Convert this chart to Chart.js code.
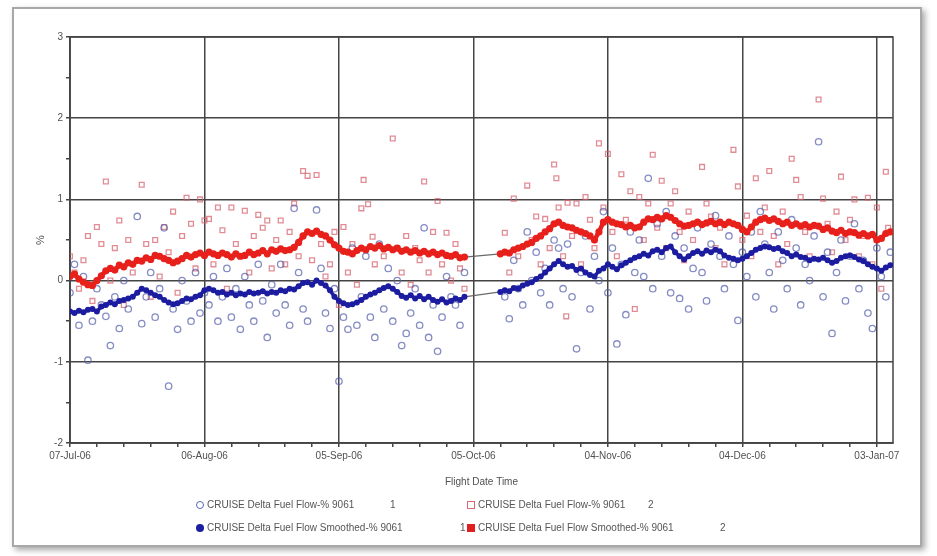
<!DOCTYPE html>
<html><head><meta charset="utf-8">
<script src="https://cdn.jsdelivr.net/npm/chart.js@4.4.0/dist/chart.umd.min.js"></script>
<style>
html,body{margin:0;padding:0;background:#fff;}
#wrap{position:relative;width:937px;height:556px;overflow:hidden;background:#fff;}
#frame{position:absolute;left:12px;top:7px;width:906px;height:536px;border:2px solid #a8a8a8;box-shadow:3px 3px 6px rgba(0,0,0,0.35);}
#c{position:absolute;left:0;top:0;}
.leg{position:absolute;font:10px "Liberation Sans",Arial,sans-serif;color:#555;white-space:nowrap;line-height:12px;}
.mk{position:absolute;box-sizing:border-box;}
</style></head>
<body><div id="wrap"><div id="frame"></div><canvas id="c" width="937" height="556"></canvas>
<div class="mk" style="left:196px;top:501px;width:8px;height:8px;border:1.5px solid #5a66b8;border-radius:50%"></div>
<div class="leg" style="left:207px;top:499px">CRUISE Delta Fuel Flow-% 9061</div>
<div class="leg" style="left:390px;top:499px">1</div>
<div class="mk" style="left:467px;top:501px;width:8px;height:8px;border:1.5px solid #d86a72"></div>
<div class="leg" style="left:478px;top:499px">CRUISE Delta Fuel Flow-% 9061</div>
<div class="leg" style="left:648px;top:499px">2</div>
<div class="mk" style="left:196px;top:524px;width:8px;height:8px;background:#1c1ca0;border-radius:50%"></div>
<div class="leg" style="left:207px;top:522px">CRUISE Delta Fuel Flow Smoothed-% 9061</div>
<div class="leg" style="left:460px;top:522px">1</div>
<div class="mk" style="left:467px;top:524px;width:8px;height:8px;background:#e02020"></div>
<div class="leg" style="left:478px;top:522px">CRUISE Delta Fuel Flow Smoothed-% 9061</div>
<div class="leg" style="left:720px;top:522px">2</div>
</div>
<script>
const dateLabels = ['07-Jul-06','06-Aug-06','05-Sep-06','05-Oct-06','04-Nov-06','04-Dec-06','03-Jan-07'];
const yLabels = [-2,-1,0,1,2,3];
const smoothStart1 = 0;
const smoothStart2 = 96;
const redSmooth1 = [0.05,0.08,0.02,-0.02,-0.05,-0.06,0.0,0.06,0.12,0.15,
0.13,0.19,0.17,0.22,0.2,0.25,0.24,0.28,0.26,0.31,
0.3,0.27,0.25,0.22,0.24,0.27,0.31,0.29,0.32,0.34,
0.31,0.35,0.33,0.31,0.34,0.32,0.29,0.33,0.3,0.31,
0.35,0.32,0.34,0.37,0.33,0.38,0.36,0.39,0.37,0.38,
0.41,0.47,0.55,0.6,0.58,0.61,0.57,0.55,0.5,0.44,
0.4,0.36,0.35,0.33,0.37,0.4,0.38,0.42,0.4,0.43,
0.39,0.41,0.38,0.4,0.36,0.38,0.35,0.37,0.34,0.36,
0.33,0.35,0.32,0.34,0.31,0.3,0.32,0.28,0.29];
const redSmooth2 = [0.33,0.35,0.34,0.38,0.4,0.42,0.45,0.47,0.52,0.55,
0.6,0.64,0.7,0.72,0.68,0.66,0.65,0.62,0.6,0.58,
0.55,0.5,0.6,0.72,0.75,0.72,0.7,0.69,0.66,0.68,
0.65,0.66,0.72,0.76,0.75,0.78,0.76,0.8,0.78,0.74,
0.7,0.67,0.68,0.7,0.72,0.69,0.71,0.73,0.7,0.72,
0.69,0.72,0.7,0.68,0.63,0.6,0.66,0.72,0.75,0.77,
0.74,0.76,0.73,0.7,0.72,0.68,0.7,0.67,0.69,0.66,
0.68,0.67,0.63,0.65,0.61,0.59,0.62,0.58,0.6,0.59,
0.56,0.58,0.55,0.57,0.5,0.52,0.58,0.6];
const blueSmooth1 = [-0.38,-0.4,-0.37,-0.39,-0.36,-0.35,-0.38,-0.32,-0.3,-0.27,
-0.29,-0.25,-0.24,-0.22,-0.2,-0.15,-0.1,-0.12,-0.15,-0.18,
-0.2,-0.24,-0.27,-0.29,-0.28,-0.25,-0.22,-0.23,-0.2,-0.18,
-0.12,-0.1,-0.12,-0.15,-0.14,-0.17,-0.15,-0.18,-0.16,-0.17,
-0.14,-0.16,-0.15,-0.13,-0.16,-0.14,-0.15,-0.12,-0.13,-0.1,
-0.11,-0.07,-0.03,-0.02,-0.05,0.0,-0.03,-0.06,-0.12,-0.2,
-0.25,-0.28,-0.3,-0.29,-0.27,-0.24,-0.2,-0.17,-0.15,-0.12,
-0.09,-0.07,-0.1,-0.14,-0.19,-0.21,-0.18,-0.22,-0.19,-0.23,
-0.2,-0.24,-0.26,-0.23,-0.27,-0.25,-0.22,-0.24,-0.2];
const blueSmooth2 = [-0.14,-0.12,-0.13,-0.09,-0.1,-0.06,-0.04,-0.02,0.02,0.05,
0.1,0.15,0.2,0.24,0.2,0.17,0.18,0.13,0.15,0.1,
0.07,0.05,0.12,0.15,0.2,0.17,0.14,0.19,0.22,0.25,
0.28,0.3,0.33,0.31,0.36,0.38,0.35,0.4,0.42,0.35,
0.3,0.26,0.3,0.34,0.36,0.33,0.37,0.35,0.38,0.36,
0.31,0.28,0.27,0.25,0.27,0.3,0.34,0.38,0.4,0.42,
0.41,0.39,0.4,0.36,0.34,0.3,0.32,0.29,0.28,0.25,
0.27,0.26,0.28,0.25,0.22,0.24,0.28,0.3,0.31,0.29,
0.26,0.24,0.2,0.17,0.15,0.12,0.16,0.19];
const redRaw = [[0,0.3],[1,0.1],[2,-0.1],[3,0.25],[4,0.55],[5,-0.25],[6,0.66],[7,0.45],[8,1.22],[9,0.0],[10,0.4],[11,0.74],[12,-0.3],[13,0.5],[14,0.1],[16,1.18],[17,0.45],[18,-0.2],[19,0.5],[20,0.05],[21,0.66],[22,0.35],[23,0.85],[24,-0.15],[25,0.55],[26,1.02],[27,0.7],[28,0.15],[29,1.0],[30,0.74],
[31,0.76],[32,0.2],[33,0.9],[34,0.62],[35,-0.1],[36,0.9],[37,0.45],[38,0.3],[39,0.86],[40,0.1],[41,0.55],[42,0.81],[43,0.65],[44,0.74],[45,0.15],[46,0.5],[47,0.74],[48,0.2],[49,0.6],[50,0.95],[51,0.3],[52,1.35],[53,1.29],[54,0.25],[55,1.3],[56,0.45],[57,0.05],[58,0.2],[59,0.6],[60,-0.3],
[61,0.66],[62,0.1],[63,0.45],[64,-0.05],[65,0.89],[65.5,1.24],[66.5,0.94],[67.5,0.54],[68,0.2],[70,0.3],[72,1.75],[73,0.4],[74,0.1],[75,0.55],[76,-0.05],[77,0.4],[78,0.25],[79,1.22],[80,0.1],[81,0.6],[82,0.98],[83,0.2],[84,0.59],[85,0.0],[86,0.45],[87,0.15],[88,-0.1],
[97,0.59],[98,0.1],[99,1.01],[100,0.3],[102,1.17],[103,0.5],[104,0.79],[105,0.2],[106,0.76],[107,0.4],[108,1.43],[108.5,1.26],[109,0.9],[110,0.3],[110.7,-0.44],[111,0.96],[112,0.55],[113,0.95],[114,0.2],[115,1.03],[116,0.75],[117,0.4],[118,1.69],[119,0.9],[120,1.56],[121,0.6],[122,0.3],[123,1.31],[124,0.75],[125,1.1],[126,-0.35],[127,1.03],[128,0.5],[129,0.95],[130,1.55],[131,0.65],[132,1.23],[133,0.4],[134,0.95],[135,1.1],[136,0.6],[137,0.25],[138,0.85],[139,0.5],[141,1.4],[142,0.95],[143,0.79],[144,0.4],[145,0.65],[146,0.2],[148,1.61],[149,1.16],[150,0.5],[151,0.8],[152,0.3],[153,1.26],[154,0.6],[155,0.9],[156,1.35],[157,0.55],[158,0.2],[159,0.85],[160,0.45],[161,1.5],[162,1.24],[163,1.03],[164,0.6],[165,0.3],[167,2.23],[168,1.01],[169,0.7],[170,0.35],[171,0.85],[172,1.28],[173,0.5],[174,0.75],[175,1.0],[176,0.3],[177,0.55],[178,1.02],[179,0.2],[180,0.9],[181,-0.1],[182,1.34],[182.5,0.65]];
const blueRaw = [[0,-0.15],[1,0.2],[2,-0.55],[3,0.05],[4,-0.98],[5,-0.5],[6,-0.1],[7,-0.3],[8,-0.44],[9,-0.8],[10,-0.2],[11,-0.59],[12,0.0],[13,-0.35],[15,0.79],[16,-0.53],[17,-0.2],[18,0.1],[19,-0.45],[20,-0.1],[21,0.65],[22,-1.3],[23,-0.35],[24,-0.6],[25,0.0],[26,-0.25],[27,-0.5],[28,0.1],[29,-0.4],[30,-0.15],
[31,-0.3],[32,0.05],[33,-0.5],[34,-0.2],[35,0.15],[36,-0.45],[37,-0.1],[38,-0.6],[39,0.05],[40,-0.3],[41,-0.5],[42,0.2],[43,-0.25],[44,-0.7],[45,-0.05],[46,-0.4],[47,0.2],[48,-0.3],[49,-0.55],[50,0.89],[51,0.1],[52,-0.35],[53,-0.5],[55,0.87],[56,0.15],[57,-0.4],[58,-0.59],[59,-0.1],[60,-1.24],[61,-0.45],
[62,-0.6],[63,0.4],[64,-0.55],[65,-0.2],[66,0.3],[67,-0.45],[68,-0.7],[69,0.45],[70,-0.35],[71,0.15],[72,-0.5],[73,0.0],[74,-0.8],[75,-0.65],[76,-0.4],[77,-0.1],[78,-0.55],[79,0.65],[80,-0.7],[81,-0.3],[82,-0.87],[83,-0.45],[84,0.05],[85,-0.2],[86,-0.3],[87,-0.55],[88,0.1],
[97,-0.2],[98,-0.47],[99,0.25],[100,-0.1],[101,-0.3],[102,0.6],[103,0.0],[104,0.35],[105,-0.15],[106,0.15],[107,-0.3],[108,0.5],[109,0.4],[110,-0.1],[111,0.45],[112,-0.2],[113,-0.84],[114,0.1],[115,0.55],[116,-0.35],[117,0.3],[118,0.0],[119,0.85],[120,-0.15],[121,0.4],[122,-0.78],[123,0.2],[124,-0.42],[125,0.6],[126,0.1],[127,0.5],[128,0.05],[129,1.26],[130,-0.1],[131,0.7],[132,0.3],[133,0.85],[134,-0.15],[135,0.55],[136,-0.22],[137,0.4],[138,-0.35],[139,0.15],[140,0.65],[141,0.1],[142,-0.25],[143,0.45],[144,0.8],[145,0.3],[146,-0.1],[147,0.55],[148,0.2],[149,-0.49],[150,0.35],[151,0.05],[152,0.6],[153,-0.2],[154,0.85],[155,0.45],[156,0.1],[157,-0.35],[158,0.6],[159,0.25],[160,-0.1],[161,0.75],[162,0.4],[163,-0.3],[164,0.2],[165,0.0],[166,0.55],[167,1.71],[168,-0.2],[169,0.35],[170,-0.65],[171,0.1],[172,0.5],[173,-0.25],[174,0.3],[175,0.7],[176,-0.1],[177,0.25],[178,-0.4],[179,-0.59],[180,0.4],[181,0.05],[182,-0.2],[183,0.35]];

function smoothPts(a, s1, b, s2){
  return a.map((v,i)=>({x:s1+i,y:v})).concat(b.map((v,i)=>({x:s2+i,y:v})));
}
const pairs = arr => arr.map(p=>({x:p[0],y:p[1]}));
const gridCol = '#444444';
const isGap = ctx => ctx.p1.parsed.x - ctx.p0.parsed.x > 3;
const gapSeg = {
  borderColor: ctx => (isGap(ctx) ? 'rgba(90,90,90,0.9)' : undefined),
  borderWidth: ctx => (isGap(ctx) ? 1.2 : undefined)
};

const framePlugin = {
  id:'frame',
  beforeDatasetsDraw(chart){
    const {ctx, chartArea:a} = chart;
    ctx.save(); ctx.strokeStyle = gridCol; ctx.lineWidth = 1.5;
    ctx.strokeRect(a.left, a.top, a.right-a.left, a.bottom-a.top);
    ctx.restore();
  }
};

new Chart(document.getElementById('c'), {
  type:'scatter',
  data:{datasets:[
    {label:'CRUISE Delta Fuel Flow Smoothed-% 9061 1', data:smoothPts(blueSmooth1,smoothStart1,blueSmooth2,smoothStart2), showLine:true, borderColor:'#1c1ca0', backgroundColor:'#1c1ca0', borderWidth:3.5, pointRadius:3, pointBorderWidth:0, order:0, segment:gapSeg},
    {label:'CRUISE Delta Fuel Flow Smoothed-% 9061 2', data:smoothPts(redSmooth1,smoothStart1,redSmooth2,smoothStart2), showLine:true, borderColor:'#e8201c', backgroundColor:'#e8201c', borderWidth:4.5, pointRadius:3.6, pointBorderWidth:0, order:1, segment:gapSeg},
    {label:'CRUISE Delta Fuel Flow-% 9061 1', data:pairs(blueRaw), pointStyle:'circle', pointRadius:3.2, borderWidth:1.3, borderColor:'rgba(84,96,172,0.72)', backgroundColor:'rgba(255,255,255,0)', order:2},
    {label:'CRUISE Delta Fuel Flow-% 9061 2', data:pairs(redRaw), pointStyle:'rect', pointRadius:3.4, borderWidth:1.3, borderColor:'rgba(214,96,108,0.72)', backgroundColor:'rgba(255,255,255,0)', order:3}
  ]},
  options:{
    responsive:false, animation:false, devicePixelRatio:1,
    layout:{padding:{left:20,right:44,top:37,bottom:63}},
    plugins:{legend:{display:false}, tooltip:{enabled:false}},
    scales:{
      x:{type:'linear', min:0, max:183.6,
        afterBuildTicks: s => { const t=[]; for(let d=0; d<=180; d+=6) t.push({value:d}); s.ticks=t; },
        afterFit: s => { s.height = 50; },
        ticks:{autoSkip:false, maxRotation:0, padding:3, color:'#505050', font:{family:'Liberation Sans', size:10},
          callback: v => (v % 30 === 0 ? dateLabels[v/30] : '')},
        grid:{color: c => (c.tick && c.tick.value % 30 === 0 ? gridCol : 'rgba(0,0,0,0)'), lineWidth:1.5, tickColor:gridCol, tickLength:4},
        border:{color:gridCol, width:1.5},
        title:{display:true, text:'Flight Date Time', color:'#505050', font:{family:'Liberation Sans', size:10}, padding:{top:0,bottom:5}}
      },
      y:{type:'linear', min:-2, max:3,
        afterBuildTicks: s => { const t=[]; for(let v=-2; v<=3.001; v+=0.5) t.push({value:Math.round(v*10)/10}); s.ticks=t; },
        afterFit: s => { s.width = 50; },
        ticks:{autoSkip:false, padding:3, color:'#505050', font:{family:'Liberation Sans', size:10},
          callback: v => (yLabels.includes(v) ? String(v) : '')},
        grid:{color: c => (c.tick && Number.isInteger(c.tick.value) ? gridCol : 'rgba(0,0,0,0)'), lineWidth:1.5, tickColor:gridCol, tickLength:4},
        border:{color:gridCol, width:1.5},
        title:{display:true, text:'%', color:'#505050', font:{family:'Liberation Sans', size:11}, padding:{top:14,bottom:0}}
      }
    }
  },
  plugins:[framePlugin]
});
</script></body></html>
